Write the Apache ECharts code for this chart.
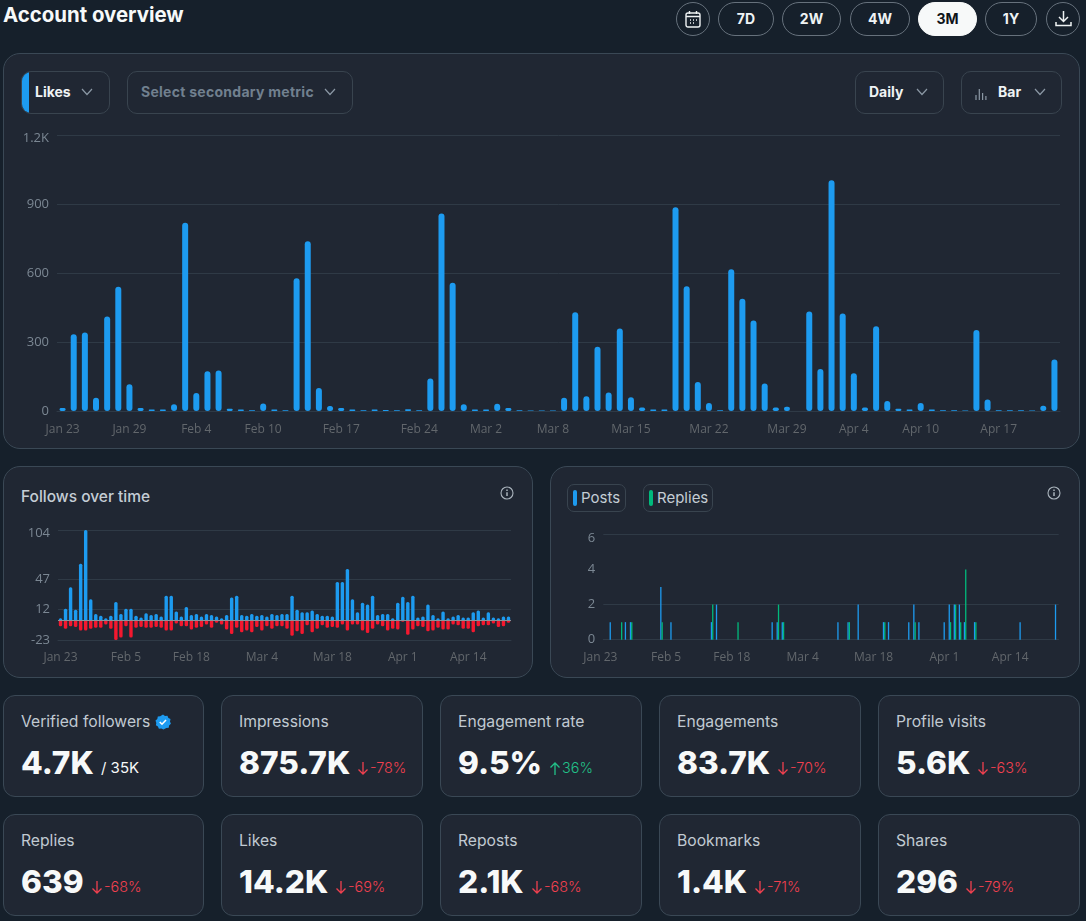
<!DOCTYPE html>
<html>
<head>
<meta charset="utf-8">
<title>Account overview</title>
<script src="https://cdn.jsdelivr.net/npm/echarts@6/dist/echarts.min.js"></script>
<style>
  html, body { margin: 0; padding: 0; background: #16202b; }
  body { position: relative; width: 1086px; height: 921px; overflow: hidden; font-family: Inter, "Noto Sans", sans-serif; color: #e7e9ea; }
  .box { position: absolute; box-sizing: border-box; background: #202733; border: 1px solid #3a4855; }
  .abs { position: absolute; white-space: nowrap; }
  .chart { position: absolute; }
  .pill { position: absolute; box-sizing: border-box; top: 2px; height: 34px; border: 1px solid #66717c; border-radius: 17px; text-align: center; line-height: 32px; font-size: 14px; font-weight: 700; color: #eff3f4; }
  .pill.on { background: #f7f9f9; border-color: #f7f9f9; color: #0f1419; }
  .drop { position: absolute; box-sizing: border-box; top: 71px; height: 43px; border: 1px solid #39444f; border-radius: 10px; background: #202733; }
  .drop span { position: absolute; top: 0; line-height: 39px; font-size: 14px; font-weight: 700; color: #eff3f4; white-space: nowrap; }
  .chip { position: absolute; box-sizing: border-box; top: 484px; height: 28px; border: 1px solid #39444f; border-radius: 7px; font-size: 15px; line-height: 26px; color: #c4cdd5; }
  .chip i { position: absolute; left: 5px; top: 5px; width: 4px; height: 16px; border-radius: 2px; }
  .chip span { position: absolute; left: 13px; top: 0; }
  .mname { position: absolute; left: 17px; top: 16px; font-size: 15.7px; color: #c1cad2; white-space: nowrap; }
  .mval { position: absolute; left: 17px; top: 47px; font-size: 31.6px; line-height: 40px; font-weight: 800; color: #f7f9f9; white-space: nowrap; }
  .mdelta { position: absolute; top: 61px; font-size: 14.4px; line-height: 22px; font-weight: 300; white-space: nowrap; }
  #buttons { position: absolute; left: 0; top: 0; z-index: 3; }
</style>
</head>
<body>

<div class="abs" style="left:3px;top:2px;font-size:20.4px;line-height:26px;font-weight:700;color:#f7f9f9">Account overview</div>

<div class="box" style="left:3px;top:53px;width:1077px;height:396px;border-radius:17px"></div>
<div class="box" style="left:3px;top:466px;width:530px;height:212px;border-radius:17px"></div>
<div class="box" style="left:550px;top:466px;width:530px;height:212px;border-radius:17px"></div>

<div class="drop" style="left:21px;width:89px;overflow:hidden"><i style="position:absolute;left:-1px;top:-1px;width:8px;height:43px;background:#1d9bf0"></i><span style="left:13px">Likes</span></div>
<div class="drop" style="left:127px;width:226px"><span style="left:13px;color:#71808f;letter-spacing:.27px">Select secondary metric</span></div>
<div class="drop" style="left:855px;width:89px"><span style="left:13px">Daily</span></div>
<div class="drop" style="left:961px;width:101px"><span style="left:36px">Bar</span></div>
<svg class="abs" style="left:975px;top:87px" width="12" height="14" viewBox="0 0 12 14" stroke="#8b98a5" stroke-width="1.2"><path d="M1 13V8M4.3 13V2M7.600 13V6M10.900 13V9"/></svg>

<div id="main" class="chart" style="left:0;top:120px;width:1086px;height:325px"></div>

<div class="abs" style="left:21px;top:487px;font-size:15.500px;line-height:20px;font-weight:500;color:#c4cdd5">Follows over time</div>
<div id="follows" class="chart" style="left:0;top:515px;width:540px;height:160px"></div>

<div class="chip" style="left:567px;width:59px"><i style="background:#1d9bf0"></i><span>Posts</span></div>
<div class="chip" style="left:643px;width:70px"><i style="background:#00ba7c"></i><span>Replies</span></div>
<div id="posts" class="chart" style="left:545px;top:520px;width:541px;height:155px"></div>

<div id="metrics"></div>
<div id="buttons"></div>

<script>
// 日期
var days = [
  'Jan 23','Jan 24','Jan 25','Jan 26','Jan 27','Jan 28','Jan 29','Jan 30','Jan 31',
  'Feb 1','Feb 2','Feb 3','Feb 4','Feb 5','Feb 6','Feb 7','Feb 8','Feb 9','Feb 10','Feb 11','Feb 12','Feb 13','Feb 14',
  'Feb 15','Feb 16','Feb 17','Feb 18','Feb 19','Feb 20','Feb 21','Feb 22','Feb 23','Feb 24','Feb 25','Feb 26','Feb 27','Feb 28',
  'Mar 1','Mar 2','Mar 3','Mar 4','Mar 5','Mar 6','Mar 7','Mar 8','Mar 9','Mar 10','Mar 11','Mar 12','Mar 13','Mar 14','Mar 15',
  'Mar 16','Mar 17','Mar 18','Mar 19','Mar 20','Mar 21','Mar 22','Mar 23','Mar 24','Mar 25','Mar 26','Mar 27','Mar 28','Mar 29','Mar 30','Mar 31',
  'Apr 1','Apr 2','Apr 3','Apr 4','Apr 5','Apr 6','Apr 7','Apr 8','Apr 9','Apr 10','Apr 11','Apr 12','Apr 13','Apr 14','Apr 15','Apr 16','Apr 17',
  'Apr 18','Apr 19','Apr 20','Apr 21','Apr 22'
]
var likesTicks = ['Jan 23','Jan 29','Feb 4','Feb 10','Feb 17','Feb 24','Mar 2','Mar 8','Mar 15','Mar 22','Mar 29','Apr 4','Apr 10','Apr 17']
var smallTicks = ['Jan 23','Feb 5','Feb 18','Mar 4','Mar 18','Apr 1','Apr 14']

var likes = [
  13,334,341,58,411,540,116,13,6,7,
  29,818,78,173,176,10,7,3,33,6,
  3,577,738,100,22,13,7,3,6,4,
  3,8,3,141,859,558,29,6,7,32,
  13,3,2,2,2,58,429,64,279,80,
  359,60,15,6,6,886,542,126,35,3,
  616,488,394,120,15,19,0,433,183,1003,
  424,164,15,368,44,10,6,35,6,3,
  3,2,352,50,3,3,3,2,23,224
]

var followsGained = [
  2,13,38,12,65,104,24,7,5,2,
  5,21,7,13,13,5,3,8,6,7,
  4,28,28,10,4,15,6,7,4,7,
  6,4,2,6,26,28,6,5,7,5,
  6,4,7,6,7,7,28,12,9,9,
  11,7,5,5,4,44,44,59,24,9,
  20,18,28,6,7,7,2,20,27,21,
  28,3,4,18,6,2,10,2,4,6,
  3,3,9,11,3,9,3,2,4,4
]
var followsLost = [
  -7,-10,-7,-8,-12,-12,-10,-9,-9,-5,
  -10,-23,-20,-7,-20,-9,-8,-9,-9,-8,
  -9,-12,-12,-4,-7,-7,-11,-9,-8,-5,
  -9,-3,-5,-11,-16,-9,-14,-12,-14,-8,
  -12,-7,-10,-7,-7,-10,-18,-13,-16,-6,
  -14,-10,-6,-9,-8,-9,-5,-12,-5,-5,
  -12,-15,-10,-5,-7,-12,-10,-11,-2,-17,
  -11,-7,-8,-13,-12,-9,-11,-11,-5,-6,
  -10,-10,-14,-7,-6,-6,-4,-8,-7,-3
]

// 发帖、回复：[下标, 数量]
var postCounts = [[1,1],[4,1],[5,1],[11,3],[13,1],[21,1],[22,2],[33,1],[34,1],[35,1],[46,1],[48,1],[50,2],[55,1],[56,1],[60,1],[61,2],[62,1],[67,1],[68,2],[69,2],[70,2],[71,1],[73,1],[82,1],[89,2]]
var replyCounts = [[3,1],[5,1],[11,1],[21,2],[26,1],[34,2],[35,1],[48,1],[55,1],[61,1],[68,1],[69,2],[70,1],[71,4],[73,1]]

var likesAxis = [0, 300, 600, 900, 1200]
var followsAxis = [-23, 12, 47, 104]
var postsAxis = [0, 2, 4, 6]
var postsLines = [0, 2, 6]

var rangeNames = ['7D', '2W', '4W', '3M', '1Y']
var rangeLeft = [718, 782, 850, 918, 985]
var rangeWidth = [56, 59, 60, 59, 52]

var metricNames = ['Verified followers', 'Impressions', 'Engagement rate', 'Engagements', 'Profile visits', 'Replies', 'Likes', 'Reposts', 'Bookmarks', 'Shares']
var metricValues = ['4.7K', '875.7K', '9.5%', '83.7K', '5.6K', '639', '14.2K', '2.1K', '1.4K', '296']
var metricDeltas = ['', '-78%', '36%', '-70%', '-63%', '-68%', '-69%', '-68%', '-71%', '-79%']
var cardLeft = [3, 221, 440, 659, 878]
var cardWidth = [201, 202, 202, 202, 202]

var BLUE = '#1d9bf0', RED = '#f4182f', GREEN = '#00ba7c'
var GRID = '#2f3a46', YTEXT = '#7b8793', XTEXT = '#62676c'

function expand(pairs) {
  var out = days.map(function() { return 0 })
  pairs.forEach(function(p) { out[p[0]] = p[1] })
  return out
}

function chevron(x, y) {
  return '<svg class="abs" style="left:' + x + 'px;top:' + y + 'px" width="12" height="8" viewBox="0 0 12 8" fill="none" stroke="#8b98a5" stroke-width="1.2"><path d="M1 1l5 5.5 5-5.5"/></svg>'
}

function infoIcon(x, y) {
  return '<svg class="abs" style="left:' + (x - 7) + 'px;top:' + (y - 7) + 'px" width="14" height="14" viewBox="0 0 14 14" fill="none" stroke="#aab4bd" stroke-width="1.1"><circle cx="7" cy="7" r="6"/><path d="M7 6.300v3.600" stroke-width="1.5"/><path d="M7 3.600v1.400" stroke-width="1.5"/></svg>'
}

function arrow(x, up, color) {
  var d = up ? 'M6 14V2M1.500 6.500L6 2l4.500 4.500' : 'M6 1v12M1.500 8.500L6 13l4.500-4.500'
  return '<svg class="abs" style="left:' + x + 'px;top:65px" width="12" height="15" viewBox="0 0 12 15" fill="none" stroke="' + color + '" stroke-width="1.3"><path d="' + d + '"/></svg>'
}

function buildHeader() {
  var html = ''
  html += '<div class="pill" style="left:676px;width:34px"><svg style="position:absolute;left:8px;top:7px" width="16" height="18" viewBox="0 0 16 18" fill="none" stroke="#eff3f4" stroke-width="1.4"><rect x="1" y="3" width="14" height="14" rx="2"/><path d="M1 6.500h14M4.500 1v3M11.500 1v3M5 10h1M8 10h1M11 10h1M5 13h1M8 13h1"/></svg></div>'
  rangeNames.forEach(function(name, i) {
    html += '<div class="pill' + (name === '3M' ? ' on' : '') + '" style="left:' + rangeLeft[i] + 'px;width:' + rangeWidth[i] + 'px">' + name + '</div>'
  })
  html += '<div class="pill" style="left:1046px;width:34px"><svg style="position:absolute;left:8px;top:7px" width="17" height="18" viewBox="0 0 17 18" fill="none" stroke="#eff3f4" stroke-width="1.5"><path d="M8.500 1v10M4 7l4.500 4.500L13 7M1 12v3.500h15V12"/></svg></div>'
  html += chevron(81, 88) + chevron(324, 88) + chevron(916, 88) + chevron(1034, 88)
  html += infoIcon(507, 493) + infoIcon(1054, 493)
  document.getElementById('buttons').innerHTML = html
}

function buildMetrics() {
  var html = ''
  metricNames.forEach(function(name, i) {
    var col = i % 5
    var top = i < 5 ? 695 : 814
    html += '<div class="box" style="left:' + cardLeft[col] + 'px;top:' + top + 'px;width:' + cardWidth[col] + 'px;height:102px;border-radius:12px">'
    html += '<div class="mname">' + name + '</div>'
    html += '<div class="mval" data-i="' + i + '">' + metricValues[i] + '</div>'
    html += '</div>'
  })
  document.getElementById('metrics').innerHTML = html
  // 变化值跟在大数字后面
  var vals = document.querySelectorAll('.mval')
  for (var k = 0; k < vals.length; k++) {
    var i = +vals[k].getAttribute('data-i')
    var right = 17 + vals[k].offsetWidth + 6
    var delta = metricDeltas[i]
    var extra = ''
    if (i === 0) {
      extra = '<div class="mdelta" style="left:' + (right + 1) + 'px;color:#f7f9f9;font-size:15px;font-weight:400">/ 35K</div>'
      extra += '<svg class="abs" style="left:151px;top:18px" width="16" height="16" viewBox="0 0 16 16"><path d="M8 .5l2 1.400 2.400-.2 1 2.200 2.100 1.200-.5 2.400.9 2.200-1.800 1.700-.4 2.400-2.400.3L8.500 15.600 6.300 14.600l-2.400.2-1-2.200L.9 11.300l.4-2.400L.5 6.600l1.800-1.700.5-2.400 2.400-.2z" fill="#1d9bf0"/><path d="M4.800 8l2.200 2.200 4-4.200" fill="none" stroke="#fff" stroke-width="1.600"/></svg>'
    } else {
      var up = delta.charAt(0) !== '-'
      var color = up ? '#22c088' : '#f0404f'
      extra = arrow(right + 1, up, color) + '<div class="mdelta" style="left:' + (right + 14) + 'px;color:' + color + '">' + delta + '</div>'
    }
    vals[k].insertAdjacentHTML('afterend', extra)
  }
}

// 最大刻度的文字略向下
function yFormatter(top, text) {
  return function(v) {
    var s = text ? text(v) : String(v)
    return v === top ? '{top|' + s + '}' : s
  }
}

function xAxisOf(ticks, margin, padding) {
  return {
    type: 'category',
    data: days,
    axisLine: { onZero: false, lineStyle: { color: GRID, width: 1 } },
    axisTick: { show: false },
    axisLabel: {
      color: XTEXT,
      fontSize: 12,
      fontFamily: 'Open Sans',
      margin: margin,
      padding: padding || 0,
      interval: function(i, name) { return ticks.indexOf(name) >= 0 }
    }
  }
}

function yAxisOf(values, lines, text) {
  var top = values[values.length - 1]
  return {
    type: 'value',
    min: values[0],
    max: top,
    axisLine: { show: false },
    axisTick: { show: false, customValues: lines || values },
    splitLine: { lineStyle: { color: GRID, width: 1 } },
    axisLabel: {
      customValues: values,
      color: YTEXT,
      fontSize: 13,
      fontFamily: 'Open Sans',
      margin: 8,
      formatter: yFormatter(top, text),
      rich: { top: { color: YTEXT, fontSize: 13, fontFamily: 'Open Sans', padding: [7, 0, 0, 0] } }
    }
  }
}

function drawMain() {
  var chart = echarts.init(document.getElementById('main'))
  chart.setOption({
    animation: false,
    grid: { left: 57, width: 1003, top: 15, height: 276 },
    xAxis: xAxisOf(likesTicks, 13),
    yAxis: yAxisOf(likesAxis, null, function(v) { return v >= 1000 ? (v / 1000) + 'K' : String(v) }),
    series: [{
      type: 'bar',
      data: likes,
      barWidth: 6,
      itemStyle: { color: BLUE, borderRadius: 3 }
    }]
  })
}

function drawFollows() {
  var chart = echarts.init(document.getElementById('follows'))
  chart.setOption({
    animation: false,
    grid: { left: 58, width: 453, top: 15, height: 110 },
    xAxis: xAxisOf(smallTicks, 12),
    yAxis: yAxisOf(followsAxis),
    series: [{
      type: 'bar',
      data: followsGained,
      barWidth: 3.4,
      barGap: '-100%',
      itemStyle: { color: BLUE, borderRadius: [1.5, 1.5, 0, 0] }
    }, {
      type: 'bar',
      data: followsLost,
      barWidth: 3.4,
      itemStyle: { color: RED, borderRadius: [0, 0, 1.5, 1.5] },
      markLine: {
        silent: true,
        symbol: 'none',
        label: { show: false },
        lineStyle: { color: '#8b929a', width: 1, type: 'solid' },
        data: [{ yAxis: 0 }]
      }
    }]
  })
}

function drawPosts() {
  var chart = echarts.init(document.getElementById('posts'))
  chart.setOption({
    animation: false,
    grid: { left: 58.3, width: 455.4, top: 14.3, height: 105.4 },
    xAxis: xAxisOf(smallTicks, 12, [0, 11, 0, 0]),
    yAxis: yAxisOf(postsAxis, postsLines),
    series: [{
      type: 'bar',
      data: expand(postCounts),
      barWidth: 1.3,
      barGap: 0,
      itemStyle: { color: BLUE }
    }, {
      type: 'bar',
      data: expand(replyCounts),
      barWidth: 1.3,
      itemStyle: { color: GREEN }
    }]
  })
}

buildHeader()
buildMetrics()
drawMain()
drawFollows()
drawPosts()
</script>
</body>
</html>
